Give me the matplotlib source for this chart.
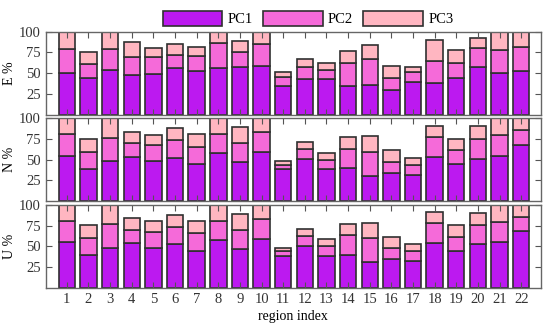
import matplotlib
matplotlib.use('Agg')
import matplotlib.pyplot as plt
import numpy as np

plt.rcParams['font.family'] = ['Liberation Serif', 'DejaVu Serif']
plt.rcParams['font.size'] = 10

regions = list(range(1, 23))
panels = ['E %', 'N %', 'U %']

e_pc1 = [50.4, 44.3, 54.1, 48.0, 49.2, 55.7, 52.0, 56.1, 57.7, 58.5, 34.6,
         43.1, 42.3, 34.6, 36.2, 29.3, 39.4, 38.2, 43.9, 57.3, 50.0, 52.4]
e_pc2 = [28.1, 16.3, 25.2, 21.5, 20.3, 16.3, 18.7, 29.7, 17.1, 26.9, 10.9,
         13.8, 11.8, 28.0, 30.9, 14.2, 11.8, 26.4, 18.7, 22.8, 27.2, 28.5]
e_pc3 = [21.5, 14.2, 20.7, 17.5, 11.0, 12.6, 11.0, 14.2, 13.8, 14.6, 6.1,
         10.2, 7.7, 14.2, 16.6, 15.4, 6.5, 24.8, 15.4, 11.8, 22.8, 19.1]

n_pc1 = [54.9, 38.7, 48.6, 53.4, 48.6, 52.6, 44.3, 57.7, 47.8, 58.9, 38.3,
         50.6, 38.3, 39.5, 30.8, 34.4, 31.2, 53.4, 44.3, 51.4, 54.2, 68.0]
n_pc2 = [26.1, 21.0, 27.7, 17.0, 18.6, 21.3, 20.9, 23.3, 22.6, 24.1, 5.6,
         11.9, 11.1, 23.3, 28.9, 13.4, 12.7, 24.5, 17.0, 24.1, 25.6, 18.2]
n_pc3 = [19.0, 15.4, 23.7, 13.4, 12.6, 13.8, 15.8, 19.0, 18.5, 17.0, 4.7,
         8.3, 9.1, 14.7, 18.6, 13.5, 8.7, 12.6, 14.2, 15.0, 20.2, 13.8]

u_pc1 = [55.6, 39.1, 48.4, 53.6, 48.4, 53.2, 44.4, 57.7, 47.2, 58.9, 38.7,
         50.8, 38.3, 39.9, 31.5, 34.7, 31.9, 53.6, 44.4, 52.4, 55.2, 68.5]
u_pc2 = [25.4, 21.0, 29.0, 16.6, 18.9, 20.6, 21.3, 23.3, 23.0, 24.6, 5.3,
         12.1, 11.7, 23.8, 28.2, 13.3, 12.5, 24.6, 17.3, 23.8, 24.2, 17.4]
u_pc3 = [19.0, 15.3, 22.6, 14.1, 12.9, 14.1, 15.3, 19.0, 18.9, 16.5, 4.4,
         8.1, 8.9, 13.7, 18.5, 13.7, 8.8, 12.9, 14.1, 14.5, 20.6, 14.1]

data = [(e_pc1, e_pc2, e_pc3), (n_pc1, n_pc2, n_pc3), (u_pc1, u_pc2, u_pc3)]
colors = ['#BC19F0', '#F56AD9', '#FFB6C1']
names = ['PC1', 'PC2', 'PC3']

fig, axes = plt.subplots(3, 1, figsize=(5.5, 3.29), dpi=100, sharex=True)
fig.subplots_adjust(left=0.083, right=0.983, top=0.904, bottom=0.125, hspace=0.045)

x = np.array(regions)
for ax, label, series in zip(axes, panels, data):
    bottom = np.zeros(len(x))
    for vals, c, nm in zip(series, colors, names):
        ax.bar(x, vals, 0.76, bottom=bottom, color=c, edgecolor='#303030',
               linewidth=1.2, label=nm)
        bottom += np.array(vals)
    ax.set_ylim(0, 100)
    ax.set_xlim(0.02, 22.9)
    ax.set_yticks([25, 50, 75, 100])
    ax.set_ylabel(label, labelpad=2)
    ax.tick_params(direction='in', top=True, right=True, length=4,
                   color='#555555', labelcolor='#333333', labelsize=10.5)
    for s in ax.spines.values():
        s.set_color('#666666')
        s.set_linewidth(1.0)

axes[-1].set_xticks(regions)
axes[-1].set_xlabel('region index', labelpad=3)

h, l = axes[0].get_legend_handles_labels()
fig.legend(h, l, loc='upper center', bbox_to_anchor=(0.56, 0.99), ncol=3,
           frameon=False, borderpad=0, handlelength=4.1, handleheight=1.3,
           columnspacing=0.7, handletextpad=0.35, fontsize=10.5)

plt.savefig('out.png', dpi=100)
